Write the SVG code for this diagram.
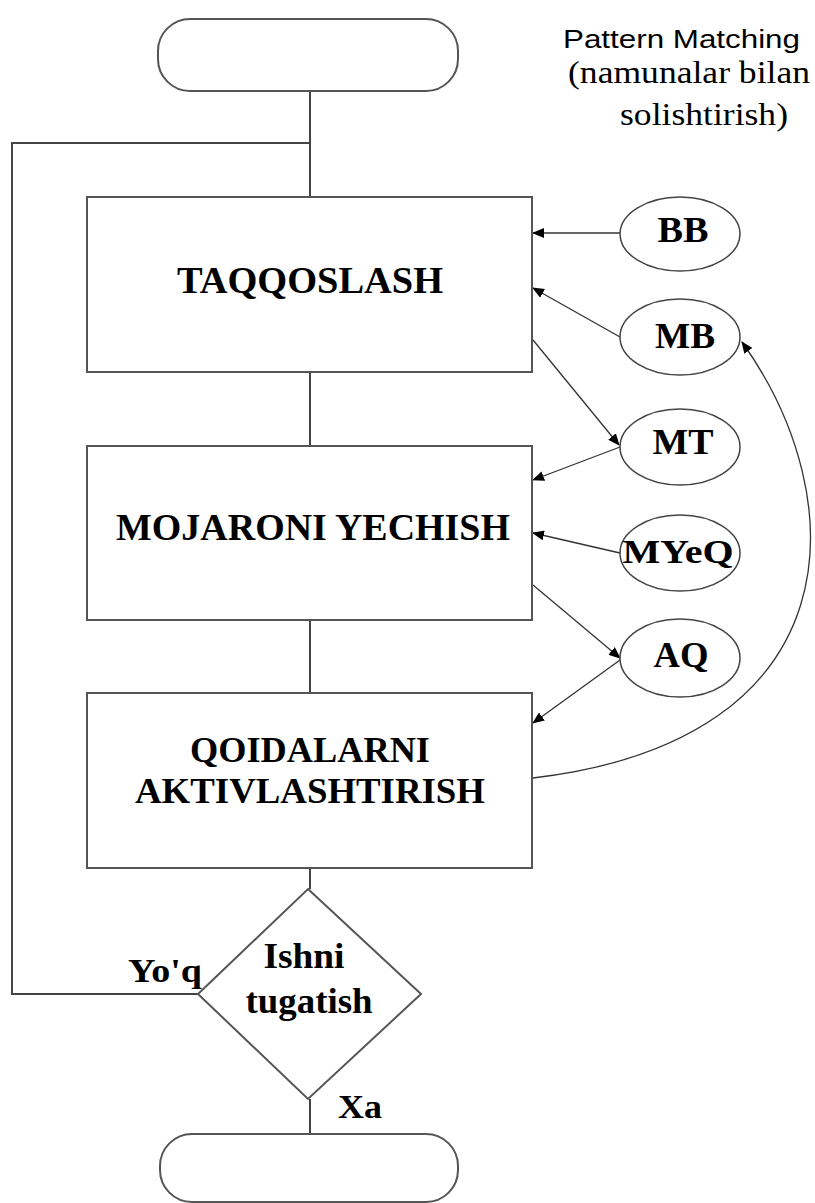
<svg xmlns="http://www.w3.org/2000/svg" width="815" height="1203" viewBox="0 0 815 1203">
<style>
.shape{fill:#fff;stroke:#555;stroke-width:2}
.ell{fill:#fff;stroke:#444;stroke-width:1.5}
.ln{fill:none;stroke:#444;stroke-width:2}
.ar{fill:none;stroke:#333;stroke-width:1.3}
.bt{font-family:"Liberation Serif","Times New Roman","DejaVu Serif",serif;font-weight:bold;fill:#000;text-anchor:middle}
.st{font-family:"Liberation Serif","Times New Roman","DejaVu Serif",serif;fill:#000}
.ss{font-family:"Liberation Sans",Arial,sans-serif;fill:#000}
</style>
<defs>
<marker id="ah" markerWidth="12" markerHeight="10" refX="11" refY="5" orient="auto" markerUnits="userSpaceOnUse">
<path d="M0,0 L12,5 L0,10 Z" fill="#000"/>
</marker>
</defs>
<rect width="815" height="1203" fill="#fff"/>

<g id="connectors">
<path class="ln" d="M310,91 V197"/>
<path class="ln" d="M310,143 H12 V994 H198"/>
<path class="ln" d="M310,372 V446"/>
<path class="ln" d="M310,620 V693"/>
<path class="ln" d="M310,868 V889"/>
<path class="ln" d="M310,1099 V1134"/>
<path class="ar" d="M620,233 L533,233" marker-end="url(#ah)"/>
<path class="ar" d="M620,337 L533,288" marker-end="url(#ah)"/>
<path class="ar" d="M533,340 L619,445" marker-end="url(#ah)"/>
<path class="ar" d="M620,447 L533,480" marker-end="url(#ah)"/>
<path class="ar" d="M620,553 L533,533" marker-end="url(#ah)"/>
<path class="ar" d="M533,585 L620,658" marker-end="url(#ah)"/>
<path class="ar" d="M620,660 L533,723" marker-end="url(#ah)"/>
<path class="ar" d="M533,778 C855,740 855,500 742,342" marker-end="url(#ah)"/>
</g>

<g id="start"><rect class="shape" x="158" y="19" width="300" height="72" rx="32" ry="32"/></g>
<g id="end"><rect class="shape" x="160" y="1134" width="298" height="68" rx="32" ry="32"/></g>

<g id="taqqoslash">
<rect class="shape" x="87" y="197" width="445" height="175"/>
<text class="bt" x="310" y="293" font-size="37" textLength="266" lengthAdjust="spacingAndGlyphs">TAQQOSLASH</text>
</g>
<g id="mojaroni">
<rect class="shape" x="87" y="446" width="445" height="174"/>
<text class="bt" x="313" y="540" font-size="37" textLength="394" lengthAdjust="spacingAndGlyphs">MOJARONI YECHISH</text>
</g>
<g id="qoidalarni">
<rect class="shape" x="87" y="693" width="445" height="175"/>
<text class="bt" x="310" y="762" font-size="36" textLength="240" lengthAdjust="spacingAndGlyphs">QOIDALARNI</text>
<text class="bt" x="310" y="803" font-size="36" textLength="350" lengthAdjust="spacingAndGlyphs">AKTIVLASHTIRISH</text>
</g>
<g id="decision">
<polygon class="shape" points="308,889 421,994 308,1099 198,994"/>
<text class="bt" x="304" y="968" font-size="35" textLength="81" lengthAdjust="spacingAndGlyphs">Ishni</text>
<text class="bt" x="309" y="1013" font-size="35" textLength="127" lengthAdjust="spacingAndGlyphs">tugatish</text>
</g>
<g id="labels">
<text class="bt" x="165" y="982" font-size="33" textLength="74" lengthAdjust="spacingAndGlyphs">Yo'q</text>
<text class="bt" x="360" y="1118" font-size="34" textLength="44" lengthAdjust="spacingAndGlyphs">Xa</text>
<text class="ss" x="563" y="48" font-size="26" textLength="237" lengthAdjust="spacingAndGlyphs">Pattern Matching</text>
<text class="st" x="568" y="83" font-size="32" textLength="242" lengthAdjust="spacingAndGlyphs">(namunalar bilan</text>
<text class="st" x="620" y="125" font-size="32" textLength="168" lengthAdjust="spacingAndGlyphs">solishtirish)</text>
</g>

<g id="bb"><ellipse class="ell" cx="680" cy="234" rx="60" ry="37"/><text class="bt" x="683" y="242" font-size="35" textLength="51" lengthAdjust="spacingAndGlyphs">BB</text></g>
<g id="mb"><ellipse class="ell" cx="680" cy="337" rx="60" ry="38"/><text class="bt" x="685" y="348" font-size="35" textLength="60" lengthAdjust="spacingAndGlyphs">MB</text></g>
<g id="mt"><ellipse class="ell" cx="680" cy="447" rx="60" ry="38"/><text class="bt" x="683" y="454" font-size="35" textLength="61" lengthAdjust="spacingAndGlyphs">MT</text></g>
<g id="myeq"><ellipse class="ell" cx="680" cy="553" rx="60" ry="38"/><text class="bt" x="678" y="563" font-size="34" textLength="111" lengthAdjust="spacingAndGlyphs">MYeQ</text></g>
<g id="aq"><ellipse class="ell" cx="680" cy="658" rx="60" ry="39"/><text class="bt" x="681" y="667" font-size="35" textLength="55" lengthAdjust="spacingAndGlyphs">AQ</text></g>
</svg>
